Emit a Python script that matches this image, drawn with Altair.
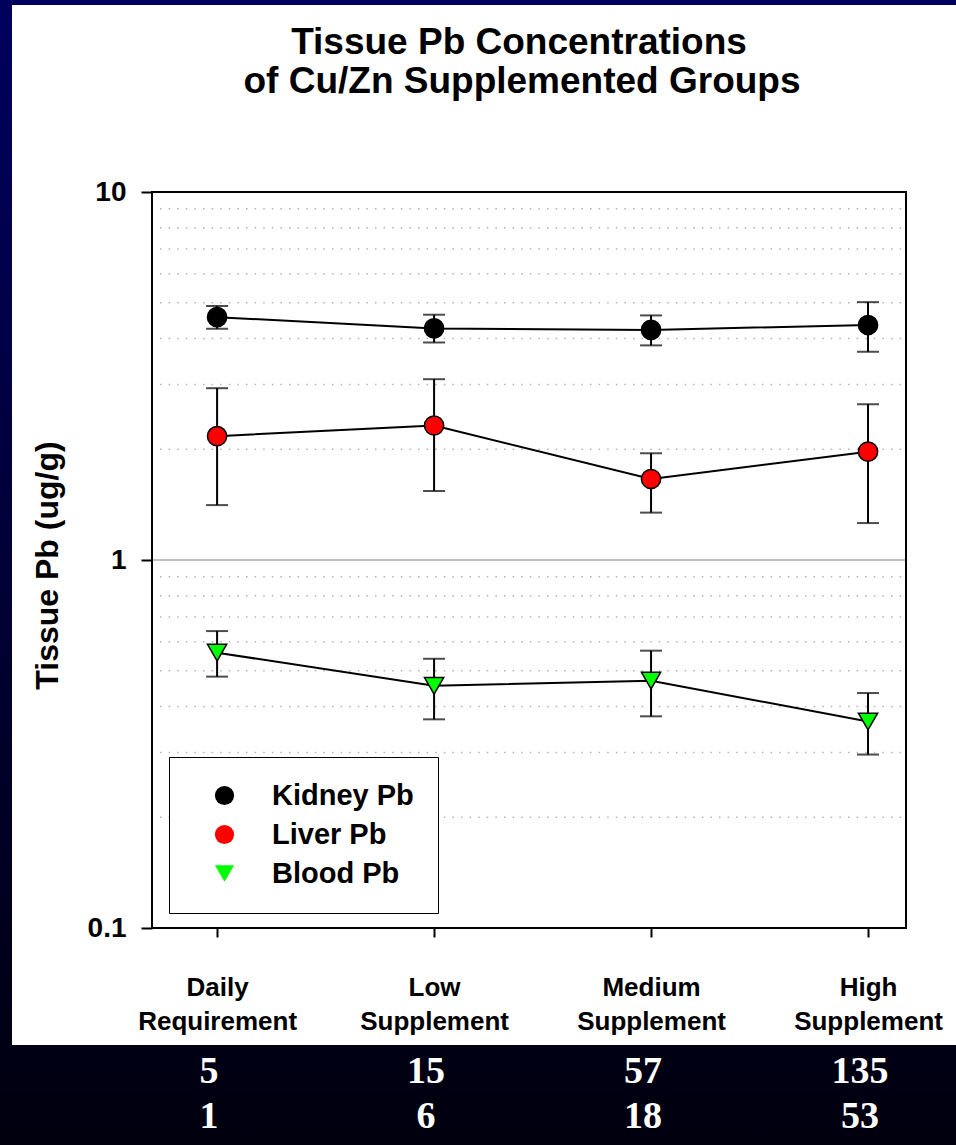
import altair as alt
import pandas as pd

# ---------------- data ----------------
groups = [1, 2, 3, 4]
group_labels = [["Daily", "Requirement"], ["Low", "Supplement"],
                ["Medium", "Supplement"], ["High", "Supplement"]]
tissues = ["Kidney Pb", "Liver Pb", "Blood Pb"]

kidney_mean = [4.57, 4.26, 4.22, 4.35]
kidney_lo = [4.25, 3.90, 3.83, 3.68]
kidney_hi = [4.90, 4.64, 4.62, 5.02]

liver_mean = [2.17, 2.32, 1.66, 1.97]
liver_lo = [1.41, 1.54, 1.345, 1.26]
liver_hi = [2.93, 3.10, 1.95, 2.65]

blood_mean = [0.560, 0.455, 0.470, 0.364]
blood_lo = [0.482, 0.369, 0.376, 0.296]
blood_hi = [0.641, 0.539, 0.567, 0.435]

zn_row = ["5", "15", "57", "135"]
cu_row = ["1", "6", "18", "53"]

minor_grid = [0.2, 0.3, 0.4, 0.5, 0.6, 0.7, 0.8, 0.9, 2, 3, 4, 5, 6, 7, 8, 9]
y_ticks = [0.1, 1, 10]

title_lines = ["Tissue Pb Concentrations", "of Cu/Zn Supplemented Groups"]
y_title = "Tissue Pb (ug/g)"

# ---------------- tables ----------------
rows = []
for name, m, lo, hi in [("Kidney Pb", kidney_mean, kidney_lo, kidney_hi),
                        ("Liver Pb", liver_mean, liver_lo, liver_hi),
                        ("Blood Pb", blood_mean, blood_lo, blood_hi)]:
    for g, a, b, c in zip(groups, m, lo, hi):
        rows.append({"g": g, "tissue": name, "mean": a, "lo": b, "hi": c})
df = pd.DataFrame(rows)
grid_df = pd.DataFrame({"v": minor_grid})
num_df = pd.DataFrame({"g": groups, "zn": zn_row, "cu": cu_row})
title_df = pd.DataFrame({"t1": [title_lines[0]], "t2": [title_lines[1]]})
one = pd.DataFrame({"a": [1]})

W, H = 754, 736
PL, PT = 152, 192
FULL_W, FULL_H = 956, 1145

FONT = "Liberation Sans"
xs = alt.Scale(domain=[0.7, 4.175], nice=False, zero=False)
ys = alt.Scale(type="log", domain=[0.1, 10], nice=False)

label_map = "[" + ",".join("['" + a + "','" + b + "']" for a, b in group_labels) + "]"

XAX = alt.Axis(title=None, values=groups, labelExpr=label_map + "[datum.value - 1]",
               domain=False, grid=False, tickColor="black", tickWidth=2, tickSize=9,
               labelFont=FONT, labelFontWeight="bold", labelFontSize=26,
               labelColor="black", labelLineHeight=34, labelBaseline="top",
               labelPadding=37, labelAngle=0, labelFlush=False, labelOverlap=False,
               zindex=2)
YAX = alt.Axis(title=y_title, values=y_ticks, format="~g", domain=False, grid=False,
               tickColor="black", tickWidth=2, tickSize=11,
               labelFont=FONT, labelFontWeight="bold", labelFontSize=28,
               labelColor="black", labelPadding=15, labelFlush=False, labelOverlap=False,
               titleFont=FONT, titleFontWeight="bold", titleFontSize=32,
               titleColor="black", titleAngle=-90, titleBaseline="middle",
               titleAlign="center", titleX=47 - PL, titleY=H / 2 + 5, zindex=2)


def X(field):
    return alt.X(field, scale=xs, axis=XAX)


def Y(field):
    return alt.Y(field, scale=ys, axis=YAX)


# background: navy gradient + white panel
bg = alt.Chart(one).mark_rect(
    color=alt.LinearGradient(
        gradient="linear", x1=0, x2=0, y1=0, y2=1,
        stops=[alt.GradientStop(color="#00005e", offset=0),
               alt.GradientStop(color="#000026", offset=0.7),
               alt.GradientStop(color="#00000e", offset=1)])
).encode(x=alt.value(-PL), x2=alt.value(FULL_W - PL),
         y=alt.value(-PT), y2=alt.value(FULL_H - PT))

panel = alt.Chart(one).mark_rect(color="white").encode(
    x=alt.value(12 - PL), x2=alt.value(FULL_W - PL),
    y=alt.value(5 - PT), y2=alt.value(1045 - PT))

grid = alt.Chart(grid_df).mark_rule(
    color="#b4b4b4", strokeWidth=1.5, strokeDash=[1.5, 7.1]
).encode(y=Y("v:Q"), x=alt.value(8), x2=alt.value(W - 3))

one_line = alt.Chart(one).mark_rule(color="#c0c0c0", strokeWidth=2).encode(
    y=Y("a:Q"), x=alt.value(0), x2=alt.value(W))

base = alt.Chart(df)

err = base.mark_rule(color="black", strokeWidth=2).encode(
    x=X("g:Q"), y=Y("lo:Q"), y2="hi:Q")

cap_lo = base.mark_tick(color="black", orient="horizontal", size=22, thickness=2).encode(
    x=X("g:Q"), y=Y("lo:Q"))
cap_hi = base.mark_tick(color="black", orient="horizontal", size=22, thickness=2).encode(
    x=X("g:Q"), y=Y("hi:Q"))

lines = base.mark_line(color="black", strokeWidth=2).encode(
    x=X("g:Q"), y=Y("mean:Q"), detail="tissue:N")

leg = dict(title=None, orient="none", legendX=17, legendY=565,
           fillColor="white", strokeColor="black", padding=24,
           symbolOffset=17, labelOffset=33, rowPadding=9,
           labelFont=FONT, labelFontWeight="bold", labelFontSize=29,
           labelColor="black", symbolSize=300,
           symbolStrokeColor="black", symbolStrokeWidth=1.5, symbolOpacity=1)

points = base.mark_point(filled=True, stroke="black", strokeWidth=1.5, opacity=1).encode(
    x=X("g:Q"), y=Y("mean:Q"),
    color=alt.Color("tissue:N",
                    scale=alt.Scale(domain=tissues, range=["#000000", "#ff0000", "#00ff00"]),
                    legend=alt.Legend(**leg)),
    shape=alt.Shape("tissue:N",
                    scale=alt.Scale(domain=tissues, range=["circle", "circle", "triangle-down"]),
                    legend=alt.Legend(**leg)),
    size=alt.Size("tissue:N", scale=alt.Scale(domain=tissues, range=[370, 370, 470]),
                  legend=None))

frame = alt.Chart(one).mark_rect(fill="transparent", stroke="black", strokeWidth=2).encode(
    x=alt.value(0), x2=alt.value(W), y=alt.value(0), y2=alt.value(H))

zn_text = alt.Chart(num_df).mark_text(
    font="Liberation Serif", fontWeight="bold", fontSize=38, color="white",
    baseline="middle", align="center", dx=-8
).encode(x=X("g:Q"), y=alt.value(1072 - PT), text="zn:N")

cu_text = alt.Chart(num_df).mark_text(
    font="Liberation Serif", fontWeight="bold", fontSize=38, color="white",
    baseline="middle", align="center", dx=-8
).encode(x=X("g:Q"), y=alt.value(1117 - PT), text="cu:N")

title1 = alt.Chart(title_df).mark_text(
    font=FONT, fontWeight="bold", fontSize=37, color="black",
    baseline="middle", align="center"
).encode(x=alt.value(519 - PL), y=alt.value(43 - PT), text="t1:N")
title2 = alt.Chart(title_df).mark_text(
    font=FONT, fontWeight="bold", fontSize=37, color="black",
    baseline="middle", align="center"
).encode(x=alt.value(522 - PL), y=alt.value(82 - PT), text="t2:N")

chart = alt.layer(
    bg, panel, grid, one_line, err, cap_lo, cap_hi, lines, points, frame,
    zn_text, cu_text, title1, title2
).properties(
    width=W, height=H,
    padding={"left": PL, "top": PT, "right": FULL_W - PL - W, "bottom": FULL_H - PT - H},
    autosize=alt.AutoSizeParams(type="none"),
).configure_view(strokeWidth=0).configure(background="white")

chart.save("out.html", embed_options={"renderer": "svg", "actions": False})
